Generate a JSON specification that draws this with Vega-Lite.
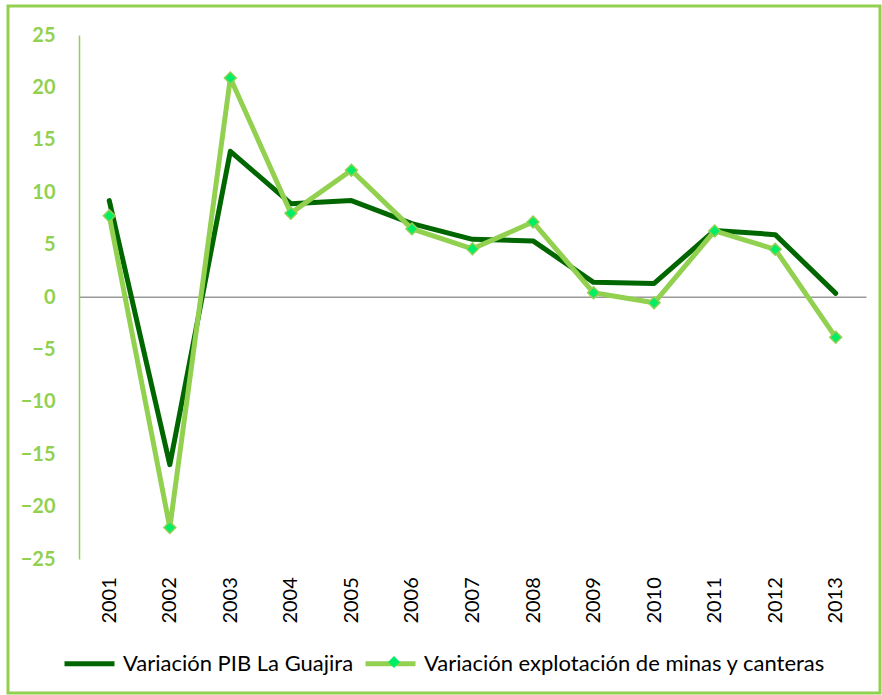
{
  "$schema": "https://vega.github.io/schema/vega-lite/v6.json",
  "autosize": "none",
  "padding": {"left": 8, "top": 6, "right": 2, "bottom": 2},
  "width": 872,
  "height": 687,
  "background": "white",
  "config": {
    "view": {"stroke": "#92D050", "strokeWidth": 3},
    "font": "Lato"
  },
  "data": {
    "values": [
      {"year": "2001", "serie": "Variación PIB La Guajira", "v": 9.2},
      {"year": "2002", "serie": "Variación PIB La Guajira", "v": -16.0},
      {"year": "2003", "serie": "Variación PIB La Guajira", "v": 13.9},
      {"year": "2004", "serie": "Variación PIB La Guajira", "v": 8.9},
      {"year": "2005", "serie": "Variación PIB La Guajira", "v": 9.2},
      {"year": "2006", "serie": "Variación PIB La Guajira", "v": 7.0},
      {"year": "2007", "serie": "Variación PIB La Guajira", "v": 5.5},
      {"year": "2008", "serie": "Variación PIB La Guajira", "v": 5.35},
      {"year": "2009", "serie": "Variación PIB La Guajira", "v": 1.4},
      {"year": "2010", "serie": "Variación PIB La Guajira", "v": 1.3},
      {"year": "2011", "serie": "Variación PIB La Guajira", "v": 6.35},
      {"year": "2012", "serie": "Variación PIB La Guajira", "v": 5.95},
      {"year": "2013", "serie": "Variación PIB La Guajira", "v": 0.35},
      {"year": "2001", "serie": "Variación explotación de minas y canteras", "v": 7.75},
      {"year": "2002", "serie": "Variación explotación de minas y canteras", "v": -22.0},
      {"year": "2003", "serie": "Variación explotación de minas y canteras", "v": 20.9},
      {"year": "2004", "serie": "Variación explotación de minas y canteras", "v": 8.0},
      {"year": "2005", "serie": "Variación explotación de minas y canteras", "v": 12.1},
      {"year": "2006", "serie": "Variación explotación de minas y canteras", "v": 6.5},
      {"year": "2007", "serie": "Variación explotación de minas y canteras", "v": 4.6},
      {"year": "2008", "serie": "Variación explotación de minas y canteras", "v": 7.15},
      {"year": "2009", "serie": "Variación explotación de minas y canteras", "v": 0.4},
      {"year": "2010", "serie": "Variación explotación de minas y canteras", "v": -0.55},
      {"year": "2011", "serie": "Variación explotación de minas y canteras", "v": 6.3},
      {"year": "2012", "serie": "Variación explotación de minas y canteras", "v": 4.55},
      {"year": "2013", "serie": "Variación explotación de minas y canteras", "v": -3.85}
    ]
  },
  "encoding": {
    "x": {
      "field": "year",
      "type": "ordinal",
      "scale": {"type": "point", "range": [71, 858], "padding": 0.5},
      "axis": {
        "title": null,
        "orient": "bottom",
        "offset": -396.3,
        "domainColor": "#999999",
        "domainWidth": 1.5,
        "ticks": false,
        "grid": false,
        "labelAngle": -90,
        "labelAlign": "right",
        "labelBaseline": "middle",
        "labelPadding": 280,
        "labelFont": "Lato",
        "labelFontSize": 20,
        "labelColor": "#000000"
      }
    },
    "y": {
      "field": "v",
      "type": "quantitative",
      "scale": {"domain": [-25, 25], "range": [553, 29], "nice": false, "zero": false},
      "axis": {
        "title": null,
        "orient": "left",
        "offset": -71,
        "values": [-25, -20, -15, -10, -5, 0, 5, 10, 15, 20, 25],
        "domainColor": "#92D050",
        "domainWidth": 1.5,
        "ticks": false,
        "grid": false,
        "labelPadding": 24,
        "labelFont": "Lato",
        "labelFontSize": 20,
        "labelFontWeight": "bold",
        "labelColor": "#92D050"
      }
    }
  },
  "layer": [
    {
      "mark": {"type": "line", "strokeWidth": 5, "strokeJoin": "round", "strokeCap": "round"},
      "encoding": {
        "color": {
          "field": "serie",
          "type": "nominal",
          "sort": null,
          "scale": {
            "domain": ["Variación PIB La Guajira", "Variación explotación de minas y canteras"],
            "range": ["#006600", "#92D050"]
          },
          "legend": {
            "title": null,
            "orient": "none",
            "direction": "horizontal",
            "legendX": 54,
            "legendY": 630,
            "padding": 0,
            "symbolType": "stroke",
            "symbolSize": 2500,
            "symbolStrokeWidth": 5,
            "labelFont": "Lato",
            "labelFontSize": 22,
            "labelColor": "#000000",
            "labelOffset": 6,
            "labelLimit": 0,
            "columnPadding": 1
          }
        }
      }
    },
    {
      "transform": [{"filter": "datum.serie == 'Variación explotación de minas y canteras'"}],
      "mark": {"type": "point", "shape": "diamond", "filled": true, "fill": "#00EE66", "stroke": "#92D050", "strokeWidth": 1.5, "size": 140, "opacity": 1},
      "encoding": {
        "shape": {
          "field": "serie",
          "type": "nominal",
          "scale": {"domain": ["Variación explotación de minas y canteras"], "range": ["diamond"]},
          "legend": {
            "title": null,
            "orient": "none",
            "legendX": 379,
            "legendY": 649,
            "padding": 0,
            "symbolSize": 140,
            "symbolFillColor": "#00EE66",
            "symbolStrokeColor": "#92D050",
            "symbolStrokeWidth": 1.5,
            "labelExpr": "''"
          }
        }
      }
    }
  ]
}
